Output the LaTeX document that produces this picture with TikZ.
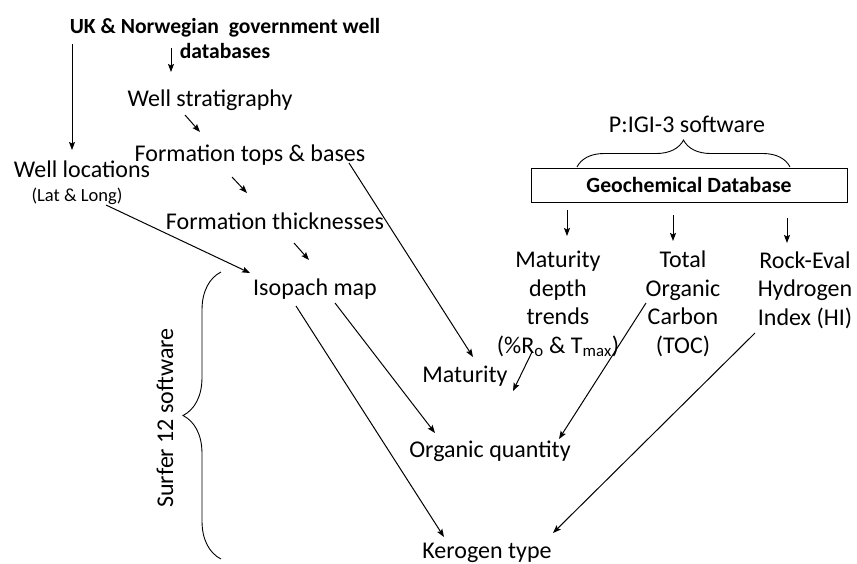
\documentclass[tikz,border=0pt]{standalone}
\usepackage{fontspec}
\setmainfont{Carlito}
\usetikzlibrary{arrows.meta,decorations.pathreplacing}
\begin{document}
\begin{tikzpicture}[x=1pt,y=-1pt,
  txt/.style={inner sep=0pt,anchor=base,font=\fontsize{24}{28.5}\selectfont,align=center},
  btxt/.style={inner sep=0pt,anchor=base,font=\fontsize{21.6}{25}\selectfont\bfseries,align=center},
  conn/.style={line width=1pt,-{Stealth[length=8pt,width=6pt,inset=1.5pt]}},
  brc/.style={line width=0.9pt,decorate,decoration={brace,amplitude=#1}}]
\useasboundingbox (0,0) rectangle (857,563);
% text nodes
\node[btxt] (title) at (225,58) {UK \& Norwegian\ \ government well\\databases};
\node[txt] (strat) at (210,106) {Well stratigraphy};
\node[txt] (tops) at (250,161) {Formation tops \& bases};
\node[txt] (wloc) at (82,177) {Well locations};
\node[inner sep=0pt,anchor=base,font=\fontsize{18.5}{22}\selectfont] (latlong) at (77,201) {(Lat \& Long)};
\node[txt] (thick) at (275,229) {Formation thicknesses};
\node[txt] (iso) at (315,295) {Isopach map};
\node[txt] (mat) at (465,382) {Maturity};
\node[txt] (orgq) at (490,457) {Organic quantity};
\node[txt] (ker) at (487,558) {Kerogen type};
\node[txt] (pigi) at (687,132) {P:IGI-3 software};
\node[draw,line width=0.9pt,minimum width=316pt,minimum height=34pt,inner sep=0pt,
  font=\fontsize{21.7}{25}\selectfont\bfseries] (geo) at (689,185) {Geochemical Database};
\node[txt] (mdt) at (558,353) {Maturity\\depth\\trends\\(\%R\textsubscript{o} \& T\textsubscript{max})};
\node[txt] (toc) at (683,353) {Total\\Organic\\Carbon\\(TOC)};
\node[txt] (hi) at (805,325) {Rock-Eval\\Hydrogen\\Index (HI)};
\node[inner sep=0pt,rotate=90,font=\fontsize{24}{28.5}\selectfont] (surf) at (165,418) {Surfer 12 software};
% braces
\draw[brc=38pt] (221,559) -- (221,272);
\draw[brc=27pt] (577,167) -- (790,167);
% connector end points
\coordinate (t1) at (72,44);   \coordinate (w1) at (72,150);
\coordinate (t2) at (171,48);  \coordinate (s2) at (171,72);
\coordinate (s3) at (185,115); \coordinate (f3) at (200,132);
\coordinate (f4) at (232,177); \coordinate (h4) at (247,193);
\coordinate (h5) at (294,243); \coordinate (i5) at (309,260);
\coordinate (l6) at (106,205); \coordinate (i6) at (250,273);
\coordinate (f7) at (349,163); \coordinate (m7) at (473,357);
\coordinate (d8) at (532,352); \coordinate (m8) at (513,391);
\coordinate (i9) at (296,306); \coordinate (k9) at (444,537);
\coordinate (i10) at (335,303); \coordinate (o10) at (435,433);
\coordinate (c11) at (646,303); \coordinate (o11) at (559,439);
\coordinate (h12) at (755,333); \coordinate (k12) at (553,533);
\coordinate (g13) at (567,210); \coordinate (d13) at (567,236);
\coordinate (g14) at (673,215); \coordinate (c14) at (673,241);
\coordinate (g15) at (787,218); \coordinate (h15) at (787,243);
% connectors
\draw[conn] (t1) -- (w1);
\draw[conn] (t2) -- (s2);
\draw[conn] (s3) -- (f3);
\draw[conn] (f4) -- (h4);
\draw[conn] (h5) -- (i5);
\draw[conn] (l6) -- (i6);
\draw[conn] (f7) -- (m7);
\draw[conn] (d8) -- (m8);
\draw[conn] (i9) -- (k9);
\draw[conn] (i10) -- (o10);
\draw[conn] (c11) -- (o11);
\draw[conn] (h12) -- (k12);
\draw[conn] (g13) -- (d13);
\draw[conn] (g14) -- (c14);
\draw[conn] (g15) -- (h15);
\end{tikzpicture}
\end{document}
